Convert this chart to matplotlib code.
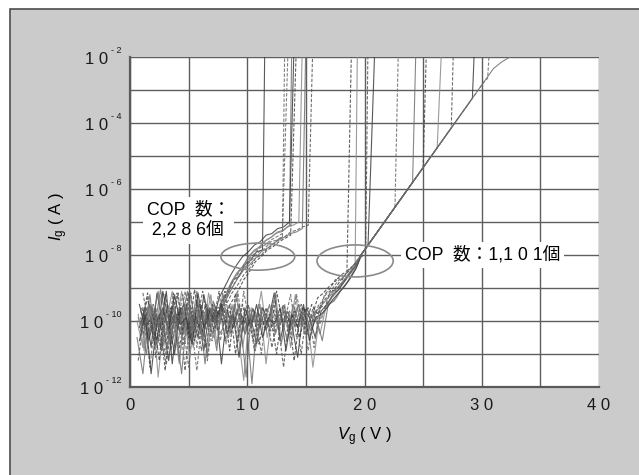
import numpy as np
import matplotlib.pyplot as plt
from matplotlib.patches import Ellipse, Rectangle
from matplotlib.ticker import FixedLocator, NullFormatter

plt.rcParams['font.family'] = ['Liberation Sans', 'Noto Sans CJK JP', 'DejaVu Sans']
plt.rcParams['mathtext.fontset'] = 'custom'
plt.rcParams['mathtext.rm'] = 'Liberation Sans'
plt.rcParams['mathtext.it'] = 'Liberation Sans:italic'

STEP = 0.5      # sweep step of the gate voltage (V)
TOP_LOG = -1.5  # breakdown traces leave the top of the plot

# group A: early breakdown traces (COP 2,286), log10(Ig) per sweep step
A_START = [0.8, 1.0, 0.6, 1.2, 0.9, 0.7, 1.1, 1.0, 0.7]
A_LOG = [
    [-10.2, -9.6, -10.8, -9.15, -10.1, -11.2, -9.7, -10.4, -9.5, -10.6, -9.8, -10.9, -9.6, -10.2,
     -9.4, -9.2, -8.75, -8.65, -8.3, -8.15, -7.9, -7.85],
    [-9.9, -10.7, -9.5, -10.3, -9.8, -10.9, -9.15, -10.1, -11.4, -9.7, -10.3, -9.5, -10.6, -9.6,
     -9.5, -9.1, -8.8, -8.5, -8.3, -8.1, -7.9, -7.8, -7.6, -7.55, -7.45],
    [-10.5, -11.6, -9.8, -10.2, -9.05, -10.0, -10.7, -9.6, -10.4, -9.1, -10.1, -9.7, -11.0, -9.4,
     -9.9, -9.3, -8.85, -8.55, -8.35, -8.05, -7.85, -7.75, -7.55, -7.45, -7.3, -7.25, -7.1],
    [-10.0, -9.5, -11.1, -9.9, -10.5, -9.15, -10.8, -9.9, -10.2, -9.4, -10.5, -9.8, -10.3, -9.7,
     -9.7, -9.4, -9.1, -8.75, -8.5, -8.2, -8.05, -7.85, -7.75, -7.6, -7.5, -7.4],
    [-9.7, -10.3, -9.5, -11.7, -10.0, -9.6, -10.4, -9.1, -10.0, -10.8, -9.5, -10.1, -9.2, -10.7,
     -9.5, -9.05, -8.7, -8.45, -8.25, -7.95, -7.8, -7.6, -7.5, -7.35, -7.3, -7.15, -7.1, -7.0],
    [-11.2, -9.8, -10.4, -9.6, -10.9, -9.5, -10.1, -9.7, -11.5, -9.6, -10.0, -9.1, -10.2, -9.9,
     -9.6, -9.5, -9.15, -8.9, -8.6, -8.4, -8.1, -8.0, -7.8, -7.7, -7.5, -7.45, -7.3, -7.25,
     -7.15, -7.1],
    [-9.6, -10.6, -9.9, -10.2, -9.1, -11.3, -9.8, -9.5, -10.6, -9.9, -10.4, -9.6, -10.0, -9.3,
     -8.95, -8.6, -8.3, -8.05, -7.9, -7.7, -7.6, -7.4, -7.35, -7.2, -7.15, -7.0],
    [-10.1, -9.3, -10.5, -9.8, -11.0, -9.6, -10.2, -9.2, -10.7, -9.9, -9.5, -10.3, -9.7, -9.6,
     -9.3, -8.95, -8.7, -8.4, -8.2, -8.0, -7.8, -7.7, -7.55, -7.45, -7.35],
    [-9.9, -10.4, -9.2, -10.8, -9.7, -10.1, -9.5, -11.2, -9.8, -10.3, -9.1, -10.5, -9.7, -10.0,
     -9.7, -9.35, -9.0, -8.7, -8.45, -8.3, -8.1, -7.9, -7.8, -7.65, -7.55, -7.45, -7.35, -7.3,
     -7.2],
]
A_EXIT = [11.5, 13.2, 13.8, 14.2, 14.7, 15.6, 14.0, 13.5, 15.0]

# group B: late breakdown traces (COP 1,101)
B_START = [1.0, 0.7, 1.1, 0.8, 1.2, 0.9, 1.0, 0.6, 1.1, 0.8, 1.2, 0.9]
B_LOG = [
    [-10.1, -9.15, -10.6, -9.8, -11.5, -9.6, -10.2, -9.7, -10.5, -9.05, -10.0, -10.8, -9.5, -10.3,
     -9.6, -10.9, -9.15, -10.1, -9.7, -10.6, -9.5, -10.2, -9.8, -11.0, -9.6, -10.3, -9.7, -10.5,
     -9.6, -9.9, -9.3, -9.15, -8.95, -8.8, -8.6, -8.5],
    [-9.8, -10.9, -9.6, -10.2, -9.15, -10.4, -9.9, -11.3, -9.5, -10.1, -9.7, -10.6, -9.15, -10.0,
     -9.8, -10.7, -9.5, -10.3, -11.8, -9.6, -10.1, -9.1, -10.5, -9.7, -10.2, -9.5, -10.8, -9.6,
     -10.0, -10.3, -9.8, -10.4, -9.6, -9.3, -9.1, -8.8, -8.55, -8.35],
    [-10.4, -9.5, -10.0, -10.8, -9.7, -10.3, -9.15, -10.7, -9.9, -10.2, -9.5, -11.2, -9.8, -10.0,
     -9.1, -10.4, -9.7, -10.1, -9.5, -10.9, -9.8, -10.3, -9.6, -10.0, -11.4, -9.7, -10.2, -9.5,
     -10.4, -9.6, -9.8, -9.2, -9.0, -8.7, -8.75, -8.45, -8.3, -8.1, -7.95],
    [-9.5, -10.2, -9.9, -10.6, -9.1, -10.0, -11.0, -9.6, -10.3, -9.8, -10.5, -9.2, -10.1, -9.6,
     -11.3, -9.7, -10.2, -9.5, -10.4, -9.9, -10.7, -9.6, -10.0, -9.15, -10.6, -9.8, -10.1, -11.1,
     -9.6, -9.9, -10.5, -9.7, -9.5, -9.2, -9.05, -8.8, -8.55, -8.3, -7.95, -7.7],
    [-9.7, -11.4, -9.8, -10.1, -9.5, -10.5, -9.9, -10.2, -9.15, -10.8, -9.7, -10.0, -9.5, -10.4,
     -9.9, -9.6, -10.6, -9.1, -10.1, -9.7, -11.0, -9.6, -10.3, -9.8, -10.0, -9.2, -10.5, -9.8,
     -10.9, -9.7, -10.1, -9.5, -9.3, -9.0, -8.85, -8.6, -8.35],
    [-10.3, -9.6, -10.0, -9.1, -10.7, -9.8, -10.1, -11.6, -9.7, -10.4, -9.5, -10.0, -9.8, -10.9,
     -9.15, -10.2, -9.6, -10.5, -9.9, -11.9, -9.7, -10.1, -9.5, -10.4, -9.8, -10.6, -9.5, -10.0,
     -9.7, -10.3, -9.9, -10.6, -9.5, -9.4, -9.1, -8.9, -8.6, -8.3],
    [-9.6, -10.5, -9.9, -11.2, -9.2, -10.1, -9.8, -10.3, -9.15, -10.6, -9.9, -9.5, -10.4, -9.7,
     -10.1, -9.5, -11.0, -9.8, -10.2, -9.6, -10.7, -9.9, -10.3, -9.1, -10.0, -9.7, -11.2, -9.8,
     -10.1, -9.5, -9.8, -9.4, -9.2, -9.0, -8.75, -8.55, -8.35, -8.1],
    [-10.0, -10.8, -9.5, -10.3, -9.7, -10.0, -9.1, -10.6, -9.8, -11.1, -9.6, -10.2, -9.5, -10.5,
     -10.0, -9.6, -10.3, -9.15, -10.8, -9.7, -10.0, -9.5, -11.3, -9.8, -10.1, -9.6, -10.4, -9.2,
     -10.2, -9.8, -11.4, -10.0, -9.7, -9.45, -9.3, -9.0, -8.8, -8.5, -8.15],
    [-9.15, -10.1, -9.7, -10.5, -11.3, -9.9, -10.2, -9.5, -10.4, -9.8, -10.9, -9.6, -10.0, -9.1,
     -10.6, -9.8, -10.1, -9.5, -10.4, -9.7, -10.2, -9.6, -10.8, -9.9, -9.5, -10.3, -9.7, -11.0,
     -9.6, -10.0, -9.5, -9.6, -9.1, -9.05, -8.85, -8.6, -8.4, -8.1],
    [-10.6, -9.8, -11.6, -10.0, -9.6, -10.3, -9.2, -10.1, -9.9, -10.7, -9.15, -10.2, -9.7, -10.0,
     -9.5, -10.4, -9.8, -11.1, -9.6, -10.2, -9.5, -10.5, -9.9, -10.1, -9.6, -10.9, -9.8, -10.2,
     -9.5, -10.6, -9.9, -9.8, -9.6, -9.35, -9.15, -8.95, -8.7, -8.4],
    [-10.2, -9.5, -10.0, -9.7, -10.8, -9.6, -10.3, -9.1, -10.0, -11.5, -9.8, -10.1, -9.5, -10.6,
     -9.7, -10.0, -9.15, -10.3, -9.8, -10.9, -9.6, -10.2, -9.5, -10.1, -9.7, -10.5, -9.2, -10.0,
     -9.6, -10.8, -9.5, -9.2, -9.05, -8.8, -8.65, -8.45, -8.25],
    [-9.9, -11.0, -9.6, -10.2, -9.5, -10.6, -9.8, -10.0, -9.1, -10.3, -9.7, -11.3, -9.6, -10.1,
     -9.8, -10.5, -9.5, -10.0, -11.7, -9.6, -10.3, -9.8, -10.0, -9.15, -10.7, -9.7, -10.1, -9.5,
     -10.4, -9.9, -9.7, -9.5, -9.3, -9.1, -8.9, -8.7, -8.45, -8.2],
]
# breakdown point on the common slope and where the trace leaves the plot
B_BD_V = [None, None, None, None, 22.6, 24.1, 25.0, 26.2, 27.4, 29.2, 30.5, None]
B_BD_LOG = [None, None, None, None, -6.55, -5.8, -5.35, -4.75, -4.15, -3.25, -2.65, None]
B_EXIT = [18.9, 19.4, 20.3, 20.9, 22.9, 24.4, 25.3, 26.6, 27.6, 29.4, 30.7, None]

# common Fowler-Nordheim slope shared by the group B traces
DIAG_V = [19.7, 21.7, 23.7, 25.7, 27.7, 29.7, 30.3, 31.0, 31.7, 32.4, 33.5]
DIAG_LOG = [-8.0, -7.0, -6.0, -5.0, -4.0, -3.0, -2.7, -2.35, -2.15, -2.0, -1.9]

X_TICKS = [0, 10, 20, 30, 40]
X_LABELS = ['0', '1 0', '2 0', '3 0', '4 0']
Y_EXP = [-12, -10, -8, -6, -4, -2]

STYLES = [('-', '#3c3c3c'), ('--', '#6a6a6a'), ('-', '#707070'), ('--', '#444444'),
          ('-', '#8a8a8a'), ('--', '#555555')]

fig = plt.figure(figsize=(6.39, 4.75), dpi=100)
fig.patches.append(Rectangle((10 / 639, -0.1), 1.2, 1.1 - 9 / 475, transform=fig.transFigure,
                             facecolor='#cbcbcb', edgecolor='#4d4d4d', lw=1.2, zorder=-10))

ax = fig.add_axes([130 / 639, 88 / 475, 469 / 639, 330 / 475])
ax.set_facecolor('white')
ax.set_yscale('log')
ax.set_xlim(0, 40)
ax.set_ylim(1e-12, 1e-2)


def draw(v, logs, i):
    ls, col = STYLES[i % len(STYLES)]
    ax.plot(v, 10.0 ** np.array(logs), ls=ls, color=col, lw=0.8, alpha=0.85,
            dashes=(3, 1.5) if ls == '--' else (None, None), zorder=2)


for i, (start, vals, ex) in enumerate(zip(A_START, A_LOG, A_EXIT)):
    v = list(start + STEP * np.arange(len(vals)))
    draw(v + [ex], list(vals) + [TOP_LOG], i)

for i, (start, vals) in enumerate(zip(B_START, B_LOG)):
    v = list(start + STEP * np.arange(len(vals)))
    logs = list(vals)
    bd_v, bd_log, ex = B_BD_V[i], B_BD_LOG[i], B_EXIT[i]
    if bd_v is not None:
        keep = [k for k, dv in enumerate(DIAG_V) if dv < bd_v]
        v += [DIAG_V[k] for k in keep] + [bd_v]
        logs += [DIAG_LOG[k] for k in keep] + [bd_log]
    elif ex is None:
        v += DIAG_V
        logs += DIAG_LOG
    if ex is not None:
        v += [ex]
        logs += [TOP_LOG]
    draw(v, logs, i + 3)

# grid and axes
ax.set_xticks(X_TICKS)
ax.set_xticklabels(X_LABELS)
ax.xaxis.set_minor_locator(FixedLocator([5, 15, 25, 35]))
ax.yaxis.set_major_locator(FixedLocator([10.0 ** e for e in Y_EXP]))
ax.yaxis.set_minor_locator(FixedLocator([10.0 ** e for e in range(-11, -2, 2)]))
ax.yaxis.set_major_formatter(NullFormatter())
ax.yaxis.set_minor_formatter(NullFormatter())
ax.tick_params(which='both', length=0, labelsize=12, colors='#1a1a1a')
ax.tick_params(axis='x', pad=8)
ax.grid(True, which='both', color='#5e5e5e', lw=1.0)
ax.set_axisbelow(True)
for s in ['top', 'right']:
    ax.spines[s].set_visible(False)
for s in ['left', 'bottom']:
    ax.spines[s].set_color('#5a5a5a')
    ax.spines[s].set_linewidth(1.6)

# y tick labels "1 0" with a small raised exponent
for e in Y_EXP:
    sup = ax.annotate('- ' + str(-e), xy=(0, 10.0 ** e), xycoords=('axes fraction', 'data'),
                      xytext=(-5.8, 1.2), textcoords='offset points', ha='right', va='bottom',
                      fontsize=6.5, color='#1a1a1a', annotation_clip=False)
    ax.annotate('1 0', xy=(0, 10.0 ** e), xycoords=(sup, 'data'), xytext=(-2.5, -1.5),
                textcoords='offset points', ha='right', va='center', fontsize=12,
                color='#1a1a1a', annotation_clip=False)

ax.set_xlabel(r'$V_{\mathregular{g}}$ ( V )', fontsize=12)
ax.set_ylabel(r'$I_{\mathregular{g}}$ ( A )', fontsize=12)
ax.xaxis.set_label_coords(0.5, -0.115)
ax.yaxis.set_label_coords(-0.128, 0.515)

# highlighted groups
for cx, cy, w, h in [(10.9, -8.05, 6.3, 0.82), (19.2, -8.18, 6.5, 0.97)]:
    ax.add_patch(Ellipse((cx / 40, (cy + 12) / 10), w / 40, h / 10, transform=ax.transAxes,
                         fill=False, edgecolor='#8a8a8a', lw=1.2, zorder=3))

box = dict(facecolor='white', edgecolor='none', pad=3)
ax.text(1.45, 10 ** -6.95, 'COP  数：\n 2,2 8 6個', fontsize=12.8, ha='left', va='center',
        linespacing=1.35, bbox=box, zorder=4)
ax.text(23.45, 1e-8, 'COP  数：1,1 0 1個', fontsize=12.8, ha='left', va='center',
        bbox=box, zorder=4)

fig.savefig('out.png', dpi=100)
